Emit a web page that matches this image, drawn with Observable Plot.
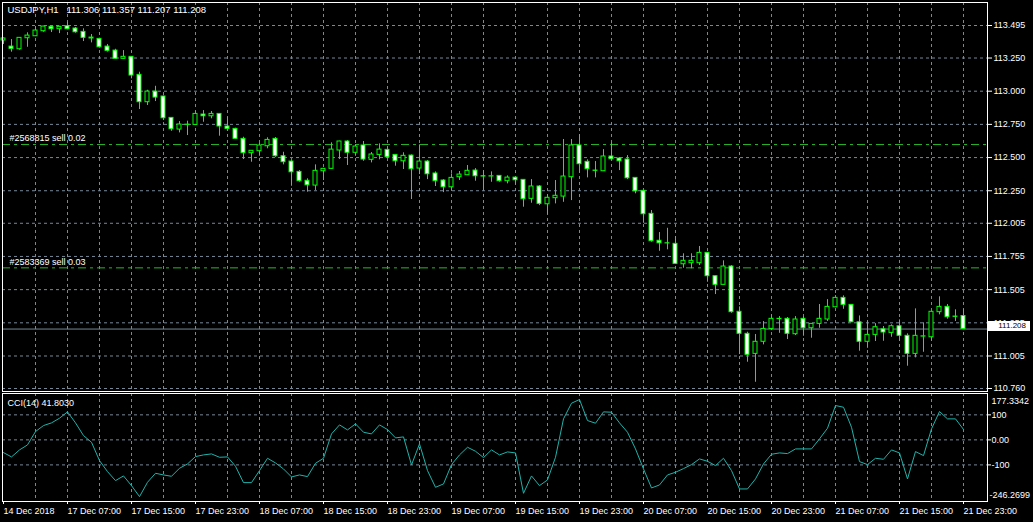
<!DOCTYPE html>
<html><head><meta charset="utf-8">
<script src="https://cdn.jsdelivr.net/npm/d3@7"></script>
<script src="https://cdn.jsdelivr.net/npm/@observablehq/plot@0.6"></script>
<style>
html,body{margin:0;padding:0;background:#000;}
#chart{position:relative;width:1033px;height:522px;background:#000;overflow:hidden;}
#chart svg{position:absolute;left:0;}
#bidbox{position:absolute;box-sizing:border-box;background:#fff;color:#000;font:8px "Liberation Sans",Arial,sans-serif;line-height:10px;height:10px;text-align:right;padding-right:4px;}
</style></head><body><div id="chart"></div>
<script>
// ---- data (USDJPY H1, 14 Dec 2018 23:00 .. 21 Dec 2018 23:00) ----
const open = [
113.382,113.336,113.316,113.399,113.414,113.452,113.485,113.467,113.489,113.472,
113.447,113.404,113.394,113.336,113.306,113.244,113.259,113.123,112.917,112.997,
112.960,112.799,112.711,112.746,112.746,112.824,112.811,112.829,112.734,112.716,
112.641,112.533,112.548,112.585,112.641,112.510,112.470,112.392,112.325,112.289,
112.397,112.415,112.553,112.621,112.536,112.591,112.483,112.520,112.558,112.520,
112.472,112.515,112.417,112.470,112.380,112.327,112.276,112.352,112.367,112.402,
112.359,112.357,112.362,112.322,112.349,112.332,112.189,112.282,112.148,112.194,
112.206,112.352,112.591,112.468,112.402,112.397,112.508,112.493,112.485,112.347,
112.249,112.076,111.873,111.854,111.850,111.696,111.704,111.704,111.782,111.606,
111.541,111.679,111.338,111.172,111.021,111.112,111.209,111.285,111.285,111.169,
111.285,111.214,111.247,111.280,111.372,111.443,111.390,111.259,111.112,111.164,
111.206,111.179,111.229,111.157,111.021,111.151,111.146,111.335,111.375,111.302,
111.306];
const high = [
113.400,113.389,113.404,113.440,113.487,113.489,113.489,113.489,113.520,113.480,
113.470,113.427,113.399,113.352,113.316,113.306,113.261,113.143,113.007,113.037,
112.962,112.801,112.771,112.774,112.849,112.854,112.847,112.832,112.804,112.721,
112.653,112.553,112.608,112.649,112.651,112.540,112.472,112.402,112.340,112.445,
112.417,112.611,112.623,112.628,112.598,112.621,112.538,112.603,112.583,112.523,
112.536,112.520,112.596,112.478,112.392,112.334,112.377,112.395,112.440,112.417,
112.402,112.392,112.364,112.362,112.357,112.334,112.334,112.289,112.221,112.327,
112.636,112.636,112.673,112.483,112.470,112.560,112.611,112.500,112.515,112.349,
112.252,112.101,111.935,111.967,111.905,111.775,111.775,111.830,111.784,111.608,
111.722,111.686,111.375,111.184,111.167,111.265,111.315,111.302,111.295,111.302,
111.302,111.249,111.393,111.430,111.460,111.458,111.392,111.307,111.267,111.249,
111.227,111.240,111.277,111.172,111.360,111.255,111.340,111.451,111.393,111.353,
111.357];
const low = [
113.352,113.294,113.309,113.331,113.412,113.444,113.442,113.434,113.462,113.437,
113.374,113.364,113.324,113.294,113.241,113.241,113.093,112.862,112.892,112.922,
112.779,112.698,112.686,112.666,112.744,112.766,112.792,112.661,112.698,112.639,
112.485,112.465,112.510,112.566,112.502,112.445,112.284,112.314,112.239,112.252,
112.327,112.412,112.485,112.440,112.510,112.472,112.460,112.483,112.493,112.435,
112.410,112.184,112.372,112.334,112.282,112.236,112.252,112.327,112.365,112.322,
112.252,112.314,112.314,112.302,112.294,112.126,112.156,112.138,112.071,112.151,
112.163,112.176,112.382,112.347,112.347,112.395,112.478,112.402,112.334,112.227,
112.005,111.862,111.794,111.805,111.696,111.666,111.662,111.686,111.561,111.468,
111.539,111.327,111.016,110.958,110.807,111.089,111.197,111.176,111.129,111.159,
111.154,111.139,111.214,111.265,111.370,111.357,111.257,111.041,111.063,111.114,
111.116,111.146,111.116,110.928,110.991,111.033,111.116,111.315,111.282,111.265,
111.207];
const close = [
113.397,113.319,113.402,113.419,113.457,113.487,113.467,113.485,113.467,113.444,
113.402,113.397,113.331,113.304,113.244,113.259,113.118,112.917,112.997,112.952,
112.796,112.713,112.749,112.748,112.829,112.811,112.829,112.734,112.716,112.641,
112.533,112.551,112.591,112.633,112.510,112.465,112.389,112.322,112.291,112.400,
112.415,112.560,112.621,112.536,112.583,112.485,112.523,112.560,112.502,112.472,
112.513,112.412,112.470,112.374,112.322,112.276,112.347,112.372,112.400,112.359,
112.357,112.359,112.322,112.349,112.329,112.186,112.282,112.151,112.197,112.212,
112.357,112.591,112.450,112.412,112.400,112.508,112.487,112.472,112.344,112.246,
112.073,111.870,111.854,111.853,111.699,111.722,111.722,111.782,111.606,111.541,
111.679,111.335,111.172,111.014,111.112,111.209,111.285,111.283,111.172,111.280,
111.214,111.247,111.285,111.375,111.443,111.390,111.259,111.112,111.164,111.222,
111.182,111.229,111.157,111.021,111.157,111.153,111.338,111.375,111.297,111.300,
111.208];
const cci = [
-50.8,-68.1,-40.1,-20.1,33.2,57.2,67.9,86.5,111.9,67.9,
17.2,-9.5,-82.8,-126.8,-162.8,-144.1,-182.8,-226.8,-169.5,-133.5,
-140.1,-145.5,-113.5,-96.1,-66.8,-60.1,-56.1,-69.5,-68.1,-105.5,
-170.8,-170.8,-122.8,-73.5,-92.1,-116.1,-148.1,-140.1,-146.8,-93.5,
-73.5,23.9,59.9,39.9,63.9,30.5,23.9,59.9,41.2,7.9,
11.9,-100.1,-16.1,-122.8,-189.5,-176.1,-98.8,-60.1,-29.5,-45.5,
-70.8,-40.1,-60.1,-48.1,-52.1,-213.5,-144.1,-182.8,-160.1,-69.5,
83.9,146.5,161.2,77.2,66.5,111.9,110.5,67.9,30.5,-36.1,
-116.1,-192.1,-180.1,-140.1,-129.5,-114.8,-98.8,-76.1,-85.5,-102.8,
-73.5,-122.8,-196.1,-196.1,-156.1,-96.1,-57.5,-52.1,-54.8,-36.1,
-36.1,-36.1,3.9,46.5,137.2,130.5,50.5,-86.8,-98.8,-73.5,
-77.5,-40.1,-52.1,-156.1,-46.8,-62.8,43.9,113.2,83.9,83.9,
41.803];
const timeLabels = ["14 Dec 2018","17 Dec 07:00","17 Dec 15:00","17 Dec 23:00","18 Dec 07:00","18 Dec 15:00","18 Dec 23:00","19 Dec 07:00","19 Dec 15:00","19 Dec 23:00","20 Dec 07:00","20 Dec 15:00","20 Dec 23:00","21 Dec 07:00","21 Dec 15:00","21 Dec 23:00"];
const priceTicks = [113.495,113.250,113.000,112.750,112.500,112.250,112.005,111.755,111.505,111.255,111.005,110.760];
const cciLevels = [100, 0, -100];
const cciMax = 177.3342, cciMin = -246.2699;
const sellLevels = [112.598, 111.669];
const sellLabels = ["#2568815 sell 0.02", "#2583369 sell 0.03"];
const bid = 111.208;
const headerText = "USDJPY,H1\u00a0\u00a0\u00a0111.306\u00a0111.357\u00a0111.207\u00a0111.208";
const cciText = "CCI(14) 41.8030";

// ---- build ----
const idx = d3.range(open.length);
const candles = idx.map(i => ({i, open: open[i], high: high[i], low: low[i], close: close[i]}));
const gridIdx = d3.range(4, idx.length, 4);
const timeIdx = d3.range(0, idx.length, 8);
const labelOf = new Map(timeIdx.map((d, k) => [d, timeLabels[k]]));
const xDomain = [-0.125, 123];
const gridColor = "#778899";
const sellColor = "#2bb82b";
const green = "#00ff00";
const style = {background: "black", color: "white", fontFamily: "'Liberation Sans', Arial, sans-serif", fontSize: "9px", overflow: "visible"};

const main = Plot.plot({
  width: 1033, height: 392,
  marginLeft: 2, marginRight: 46, marginTop: 2, marginBottom: 1,
  x: {domain: xDomain, axis: null},
  y: {domain: [110.7375, 113.6683], axis: null},
  style,
  marks: [
    Plot.gridX(gridIdx, {stroke: gridColor, strokeOpacity: 1, strokeDasharray: "3,3"}),
    Plot.gridY(priceTicks, {stroke: gridColor, strokeOpacity: 1, strokeDasharray: "3,3"}),
    Plot.ruleY(sellLevels, {stroke: sellColor, strokeDasharray: "8,4,3,4"}),
    Plot.text(sellLevels, {y: d => d, text: (d, i) => sellLabels[i], frameAnchor: "left", textAnchor: "start", dx: 7, dy: -6, fill: "white"}),
    Plot.ruleY([bid], {stroke: gridColor}),
    Plot.ruleX(candles, {x: "i", y1: "low", y2: "high", stroke: green}),
    Plot.rect(candles, {x1: d => d.i - 0.25, x2: d => d.i + 0.25, y1: "open", y2: "close",
      fill: d => d.close < d.open ? "white" : "black", stroke: green}),
    Plot.frame({stroke: "white"}),
    Plot.axisY(priceTicks, {anchor: "right", tickSize: 4, tickPadding: 2, tickFormat: d => d.toFixed(3), stroke: "white", fill: "white", label: null}),
    Plot.text([headerText], {text: d => d, frameAnchor: "top-left", textAnchor: "start", lineAnchor: "top", dx: 5, dy: 4, fill: "white", fontSize: 9.5})
  ]
});
main.style.top = "0px";

const sub = Plot.plot({
  width: 1033, height: 130,
  marginLeft: 2, marginRight: 46, marginTop: 1, marginBottom: 21,
  x: {domain: xDomain, axis: null},
  y: {domain: [cciMin, cciMax], insetTop: 2, axis: null},
  style,
  marks: [
    Plot.gridX(gridIdx, {stroke: gridColor, strokeOpacity: 1, strokeDasharray: "3,3"}),
    Plot.gridY(cciLevels, {stroke: gridColor, strokeOpacity: 1, strokeDasharray: "3,3"}),
    Plot.line(idx, {x: i => i, y: i => cci[i], stroke: "#20b2aa", strokeWidth: 1}),
    Plot.frame({stroke: "white"}),
    Plot.axisY(cciLevels, {anchor: "right", tickSize: 3, tickPadding: 1, tickFormat: d => d === 0 ? "0.00" : String(d), stroke: "white", fill: "white", label: null}),
    Plot.axisY([cciMax], {anchor: "right", tickSize: 0, tickPadding: 4, dy: 6, tickFormat: d => d.toFixed(4), fill: "white", label: null}),
    Plot.axisY([cciMin], {anchor: "right", tickSize: 0, tickPadding: 2, dy: -6, tickFormat: d => d.toFixed(4), fill: "white", label: null}),
    Plot.axisX(timeIdx, {anchor: "bottom", tickSize: 3, tickPadding: 3, tickFormat: d => labelOf.get(d), textAnchor: "start", dx: 0, stroke: "white", fill: "white", label: null}),
    Plot.text([cciText], {text: d => d, frameAnchor: "top-left", textAnchor: "start", lineAnchor: "top", dx: 5, dy: 6, fill: "white"})
  ]
});
sub.style.top = "392px";

const chart = document.getElementById("chart");
chart.appendChild(main);
chart.appendChild(sub);

// current bid price box on the price scale
const yb = main.scale("y").apply(bid);
const box = document.createElement("div");
box.id = "bidbox";
box.textContent = bid.toFixed(3);
box.style.top = (yb - 7.8) + "px";
box.style.left = "988px";
box.style.width = "42px";
chart.appendChild(box);
</script></body></html>
